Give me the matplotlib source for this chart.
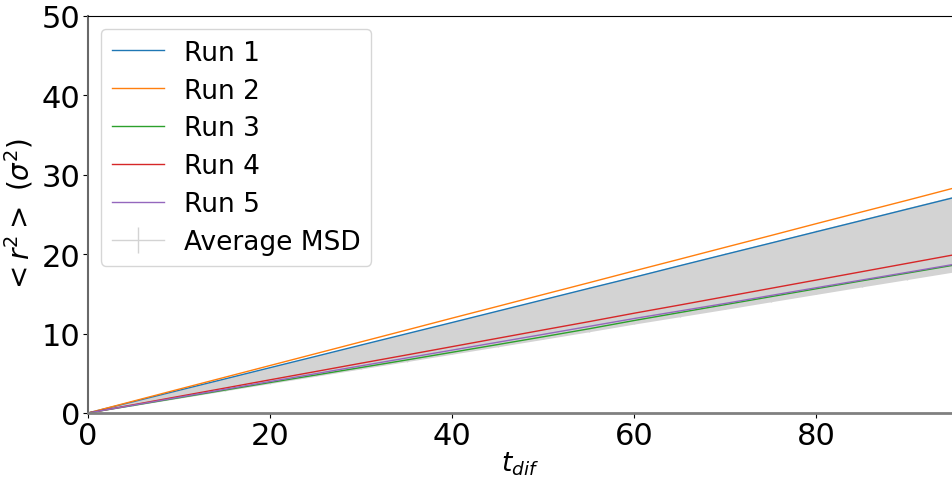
import matplotlib
matplotlib.use("Agg")
import matplotlib.pyplot as plt
import numpy as np

# lag times and MSD of each run (sigma^2)
t_dif = [0, 5, 10, 15, 20, 25, 30, 35, 40, 45, 50, 55, 60, 65, 70, 75, 80, 85, 90, 95]
run1 = [0, 1.43, 2.86, 4.28, 5.71, 7.13, 8.56, 9.98, 11.40, 12.83, 14.26, 15.69,
        17.10, 18.55, 19.98, 21.40, 22.83, 24.25, 25.68, 27.10]
run2 = [0, 1.50, 3.00, 4.49, 5.98, 7.47, 8.96, 10.45, 11.95, 13.43, 14.92, 16.40,
        17.90, 19.38, 20.87, 22.35, 23.85, 25.33, 26.80, 28.30]
run3 = [0, 0.96, 1.92, 2.88, 3.84, 4.78, 5.73, 6.68, 7.65, 8.62, 9.60, 10.60,
        11.65, 12.65, 13.65, 14.65, 15.65, 16.65, 17.62, 18.60]
run4 = [0, 1.04, 2.09, 3.13, 4.18, 5.22, 6.27, 7.31, 8.36, 9.41, 10.46, 11.50,
        12.57, 13.60, 14.65, 15.70, 16.75, 17.80, 18.85, 19.90]
run5 = [0, 0.99, 1.98, 2.97, 3.96, 4.95, 5.94, 6.93, 7.92, 8.91, 9.90, 10.90,
        11.90, 12.85, 13.80, 14.80, 15.78, 16.75, 17.72, 18.70]

runs = [run1, run2, run3, run4, run5]
labels = ["Run 1", "Run 2", "Run 3", "Run 4", "Run 5"]

arr = np.array(runs)
avg = arr.mean(axis=0)
std = arr.std(axis=0, ddof=1)

fig = plt.figure(figsize=(9.53, 4.85), dpi=100)
ax = fig.add_axes([0.0923, 0.1464, 0.9077, 0.8186])

for r, lab in zip(runs, labels):
    ax.plot(t_dif, r, lw=1.0, label=lab)

ax.fill_between(t_dif, avg - std, avg + std, color="lightgray", lw=0, zorder=1)
ax.errorbar(t_dif, avg, yerr=std, color="lightgray", lw=1.0, elinewidth=1.0,
            label="Average MSD", zorder=1)

ax.set_xlim(0, 95)
ax.set_ylim(0, 50)
ax.set_xticks([0, 20, 40, 60, 80])
ax.set_yticks([0, 10, 20, 30, 40, 50])
ax.tick_params(labelsize=22, pad=2)
ax.set_xlabel(r"$t_{dif}$", fontsize=19, labelpad=0)
ax.set_ylabel(r"$<r^2>\ (\sigma^2)$", fontsize=20, labelpad=4)

ax.spines["bottom"].set_color("gray")
ax.spines["bottom"].set_linewidth(2)
ax.spines["left"].set_color("dimgray")
ax.spines["left"].set_linewidth(1.5)

ax.legend(loc="upper left", fontsize=19, handlelength=2.0, labelspacing=0.45,
          borderaxespad=0.5, handletextpad=0.75)

fig.savefig("out.png", dpi=100)
